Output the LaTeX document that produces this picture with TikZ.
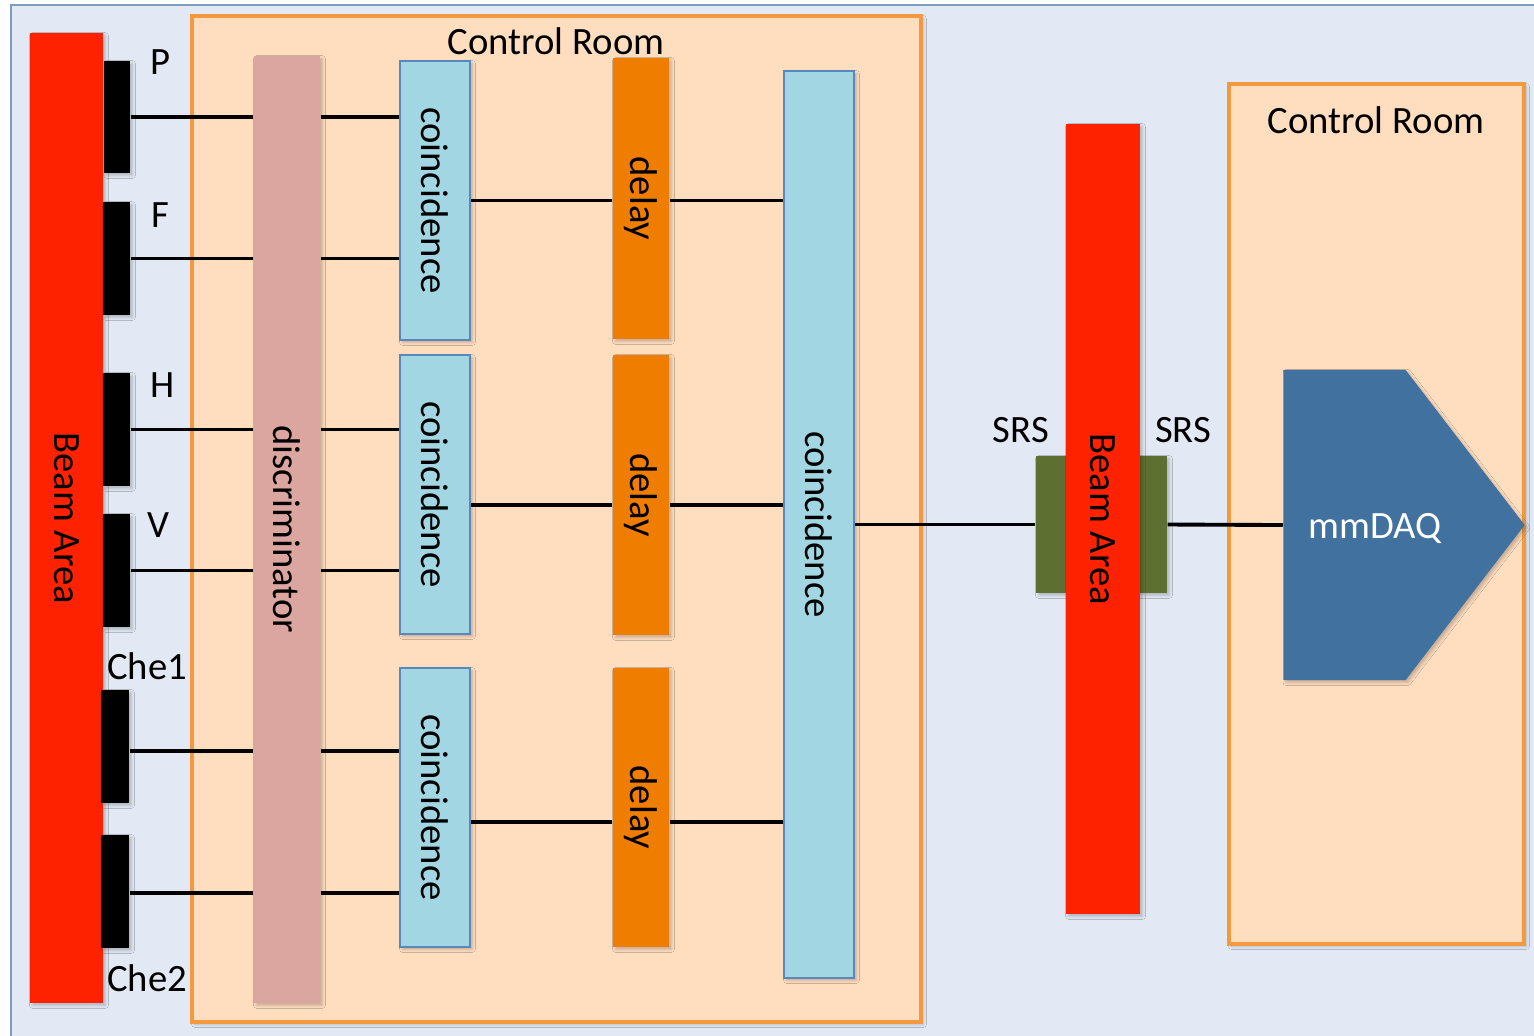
\documentclass[tikz,border=0pt]{standalone}
\usepackage{fontspec}
\setmainfont{Carlito}
\usetikzlibrary{fit,shapes.symbols,shadows.blur}

\definecolor{bgfill}{HTML}{E2E9F4}
\definecolor{bgline}{HTML}{7E9CC2}
\definecolor{roomfill}{HTML}{FFDDBF}
\definecolor{roomline}{HTML}{F39A40}
\definecolor{beamred}{HTML}{FF2200}
\definecolor{discfill}{HTML}{DCA6A0}
\definecolor{coinfill}{HTML}{A1D6E2}
\definecolor{coinline}{HTML}{5A88BC}
\definecolor{delayfill}{HTML}{EE7D00}
\definecolor{srsfill}{HTML}{5E7031}
\definecolor{daqfill}{HTML}{41719F}

\tikzset{
  box/.style = {inner sep = 0, blur shadow = {shadow xshift = 0.7pt, shadow yshift = -0.7pt, shadow blur radius = 0.8pt, shadow blur steps = 4, shadow opacity = 22}},
  area/.style = {inner sep = 0, fill = bgfill, draw = bgline, line width = 0.8pt},
  room/.style = {box, fill = roomfill, draw = roomline, line width = 0.9pt},
  beam/.style = {box, fill = beamred},
  sensor/.style = {box, fill = black},
  disc/.style = {box, fill = discfill},
  coin/.style = {box, fill = coinfill, draw = coinline, line width = 0.7pt},
  delay/.style = {box, fill = delayfill},
  srs/.style = {box, fill = srsfill},
  daq/.style = {box, shape = signal, signal to = east, signal pointer angle = 105, fill = daqfill},
  wire/.style = {line width = 1.1pt}
}

\begin{document}
\begin{tikzpicture}[x = 0.01cm, y = -0.01cm, font = \fontsize{11}{13}\selectfont]

\useasboundingbox (0,0) rectangle (1534,1035);

% rooms
\node [area, fit = {(11,5) (1545,1045)}] (bg) {};
\node [room, fit = {(192,16) (921,1022)}] (r1) {};
\node [room, fit = {(1229,84) (1524,944)}] (r2) {};
\node (t1) at (556,41) {Control Room};
\node (t2) at (1376,120) {Control Room};

% beam area and counters
\node [beam, fit = {(30,33) (103,1003)}] (a1) {\rotatebox{-90}{Beam Area}};
\node [sensor, fit = {(104,61) (130,173)}] (s1) {};
\node [sensor, fit = {(103,202) (130,315)}] (s2) {};
\node [sensor, fit = {(103,373) (130,486)}] (s3) {};
\node [sensor, fit = {(103,514) (130,627)}] (s4) {};
\node [sensor, fit = {(101,690) (129,803)}] (s5) {};
\node [sensor, fit = {(101,835) (129,948)}] (s6) {};
\node (l1) at (160,62) {P};
\node (l2) at (160,215) {F};
\node (l3) at (163,385) {H};
\node (l4) at (158,525) {V};
\node (l5) at (147,666) {Che1};
\node (l6) at (147,978) {Che2};

% electronics
\node [disc, fit = {(254,56) (320,1003)}] (d) {\rotatebox{-90}{discriminator}};
\node [coin, fit = {(400,61) (470,340)}] (c1) {\rotatebox{-90}{coincidence}};
\node [coin, fit = {(400,355) (470,634)}] (c2) {\rotatebox{-90}{coincidence}};
\node [coin, fit = {(400,668) (470,947)}] (c3) {\rotatebox{-90}{coincidence}};
\node [delay, fit = {(613,58) (669,339)}] (e1) {\rotatebox{-90}{delay}};
\node [delay, fit = {(613,355) (669,635)}] (e2) {\rotatebox{-90}{delay}};
\node [delay, fit = {(613,668) (669,947)}] (e3) {\rotatebox{-90}{delay}};
\node [coin, fit = {(784,71) (854,978)}] (c4) {\rotatebox{-90}{coincidence}};

% readout
\node [srs, fit = {(1036,456) (1167,593)}] (g) {};
\node [beam, fit = {(1066,124) (1140,914)}] (a2) {\rotatebox{-90}{Beam Area}};
\node (l7) at (1021,430) {SRS};
\node (l8) at (1183,430) {SRS};
\node [daq, minimum width = 2.41cm, minimum height = 3.1cm] (q) at (1344.5,525) {};
\node [text = white] (qt) at (1375,528) {mmDAQ};

% cable heights
\coordinate (o5) at ([yshift = -0.045cm]s5.east);
\coordinate (o6) at ([yshift = -0.015cm]s6.east);
\coordinate (k2) at ([yshift = -0.105cm]c2.east);
\coordinate (k3) at ([yshift = -0.145cm]c3.east);

% cables
\draw [wire] (s1.east) edge (s1.east -| d.west);
\draw [wire] (s2.east) edge (s2.east -| d.west);
\draw [wire] (s3.east) edge (s3.east -| d.west);
\draw [wire] (s4.east) edge (s4.east -| d.west);
\draw [wire] (o5) edge (o5 -| d.west);
\draw [wire] (o6) edge (o6 -| d.west);
\draw [wire] (d.east |- s1) edge (c1.west |- s1);
\draw [wire] (d.east |- s2) edge (c1.west |- s2);
\draw [wire] (d.east |- s3) edge (c2.west |- s3);
\draw [wire] (d.east |- s4) edge (c2.west |- s4);
\draw [wire] (d.east |- o5) edge (c3.west |- o5);
\draw [wire] (d.east |- o6) edge (c3.west |- o6);
\draw [wire] (c1.east) edge (c1.east -| e1.west);
\draw [wire] (k2) edge (k2 -| e2.west);
\draw [wire] (k3) edge (k3 -| e3.west);
\draw [wire] (e1.east |- c1) edge (c4.west |- c1);
\draw [wire] (e2.east |- k2) edge (c4.west |- k2);
\draw [wire] (e3.east |- k3) edge (c4.west |- k3);
\draw [wire] (c4.east |- g) edge (g.west);
\draw [wire] (g.east) edge (q.west);
\end{tikzpicture}
\end{document}
